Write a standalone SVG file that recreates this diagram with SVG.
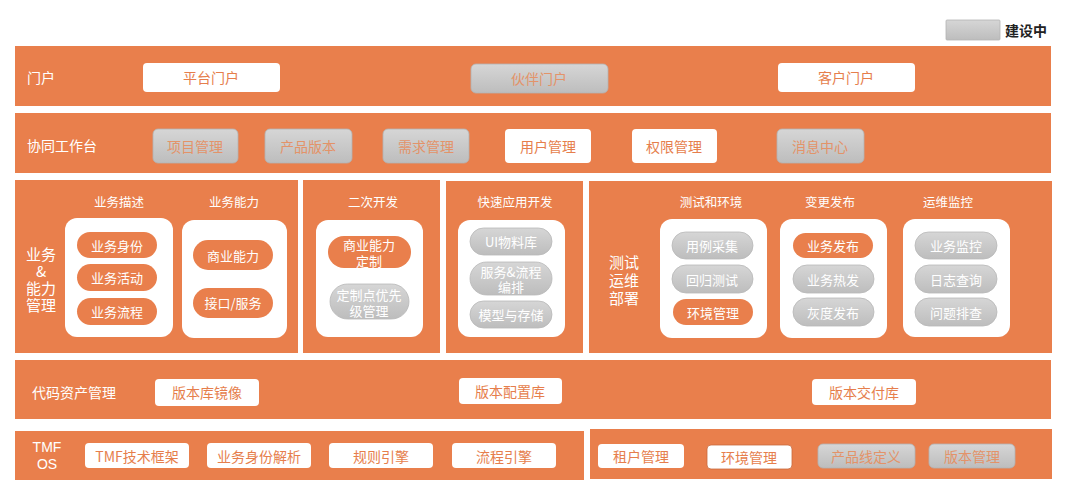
<svg xmlns="http://www.w3.org/2000/svg" width="1080" height="492" viewBox="0 0 1080 492">
<defs>
<linearGradient id="gg" x1="0" y1="0" x2="0" y2="1">
<stop offset="0" stop-color="#d6d6d6"/>
<stop offset="1" stop-color="#bdbdbd"/>
</linearGradient>
<style>
text{font-family:"Noto Sans CJK SC","Noto Sans",sans-serif;text-anchor:middle;dominant-baseline:central}
.band{fill:#e97f4c}
.wb{fill:#ffffff;rx:4px}
.gb{fill:url(#gg);stroke:#b3b3b3;stroke-width:0.8;rx:5px}
.wt{fill:#e67e4c;font-size:14px}
.gt{fill:#e39369;font-size:14px}
.lbl{fill:#ffffff;font-size:14px;text-anchor:start}
.ttl{fill:#ffffff;font-size:12.5px}
.big{fill:#ffffff;font-size:15px}
.cont{fill:#ffffff;rx:12px}
.op{fill:#e97f4c}
.gp{fill:url(#gg);stroke:#b8b8b8;stroke-width:0.8}
.pt{fill:#ffffff;font-size:13px}
</style>
</defs>
<rect width="1080" height="492" fill="#ffffff"/>

<g id="legend">
<rect x="946" y="20" width="54" height="20" class="gb" style="rx:1px"/>
<text x="1026" y="30" style="fill:#222;font-size:14px;font-weight:bold">建设中</text>
</g>

<g id="row-portal">
<rect class="band" x="15" y="46" width="1036" height="60"/>
<text class="lbl" x="27" y="77">门户</text>
</g>
<g id="n-platform-portal"><rect class="wb" x="143" y="63" width="137" height="29"/><text class="wt" x="211" y="77">平台门户</text></g>
<g id="n-partner-portal"><rect class="gb" x="471" y="64" width="137" height="29"/><text class="gt" x="539" y="78">伙伴门户</text></g>
<g id="n-customer-portal"><rect class="wb" x="778" y="63" width="137" height="29"/><text class="wt" x="846" y="77">客户门户</text></g>

<g id="row-workbench">
<rect class="band" x="15" y="113" width="1036" height="60"/>
<text class="lbl" x="27" y="145">协同工作台</text>
</g>
<g id="n-project"><rect class="gb" x="153" y="129" width="85" height="34"/><text class="gt" x="195" y="146">项目管理</text></g>
<g id="n-product-version"><rect class="gb" x="265" y="129" width="87" height="34"/><text class="gt" x="308" y="146">产品版本</text></g>
<g id="n-requirement"><rect class="gb" x="383" y="129" width="86" height="34"/><text class="gt" x="426" y="146">需求管理</text></g>
<g id="n-user"><rect class="wb" x="505" y="129" width="86" height="34"/><text class="wt" x="548" y="146">用户管理</text></g>
<g id="n-permission"><rect class="wb" x="632" y="129" width="85" height="34"/><text class="wt" x="674" y="146">权限管理</text></g>
<g id="n-message"><rect class="gb" x="777" y="129" width="87" height="34"/><text class="gt" x="820" y="146">消息中心</text></g>

<g id="panel-biz">
<rect class="band" x="15" y="180" width="283" height="173"/>
<text class="big" x="41" y="253"><tspan x="41" y="253">业务</tspan><tspan x="41" y="270">&amp;</tspan><tspan x="41" y="287">能力</tspan><tspan x="41" y="304">管理</tspan></text>
<text class="ttl" x="119" y="201">业务描述</text>
<text class="ttl" x="234" y="201">业务能力</text>
<rect class="cont" x="65" y="218" width="108" height="119"/>
<rect class="cont" x="182" y="220" width="105" height="118"/>
</g>
<g id="n-biz-identity"><rect class="op" x="77" y="232" width="80" height="26" rx="13"/><text class="pt" x="117" y="245">业务身份</text></g>
<g id="n-biz-activity"><rect class="op" x="77" y="264" width="80" height="27" rx="13.5"/><text class="pt" x="117" y="277">业务活动</text></g>
<g id="n-biz-process"><rect class="op" x="77" y="298" width="80" height="27" rx="13.5"/><text class="pt" x="117" y="311">业务流程</text></g>
<g id="n-commercial"><rect class="op" x="193" y="240" width="80" height="30" rx="15"/><text class="pt" x="233" y="255">商业能力</text></g>
<g id="n-interface"><rect class="op" x="193" y="288" width="80" height="30" rx="15"/><text class="pt" x="233" y="302">接口/服务</text></g>

<g id="panel-secondary">
<rect class="band" x="303" y="180" width="137" height="173"/>
<text class="ttl" x="373" y="201">二次开发</text>
<rect class="cont" x="316" y="220" width="107" height="117"/>
</g>
<g id="n-custom"><rect class="op" x="328" y="236" width="83" height="32" rx="16"/><text class="pt"><tspan x="369" y="244">商业能力</tspan><tspan x="369" y="260">定制</tspan></text></g>
<g id="n-custom-priority"><rect class="gp" x="330" y="284" width="79" height="35" rx="17.5"/><text class="pt"><tspan x="369" y="294">定制点优先</tspan><tspan x="369" y="310">级管理</tspan></text></g>

<g id="panel-rapid">
<rect class="band" x="446" y="181" width="137" height="172"/>
<text class="ttl" x="515" y="201">快速应用开发</text>
<rect class="cont" x="458" y="220" width="107" height="117"/>
</g>
<g id="n-ui"><rect class="gp" x="470" y="228" width="82" height="27" rx="13.5"/><text class="pt" x="511" y="241">UI物料库</text></g>
<g id="n-orchestration"><rect class="gp" x="470" y="262" width="82" height="33" rx="16.5"/><text class="pt"><tspan x="511" y="271">服务&amp;流程</tspan><tspan x="511" y="286">编排</tspan></text></g>
<g id="n-model"><rect class="gp" x="470" y="301" width="82" height="27" rx="13.5"/><text class="pt" x="511" y="314">模型与存储</text></g>

<g id="panel-ops">
<rect class="band" x="589" y="181" width="463" height="172"/>
<text class="big"><tspan x="624" y="261">测试</tspan><tspan x="624" y="279">运维</tspan><tspan x="624" y="297">部署</tspan></text>
<text class="ttl" x="711" y="201">测试和环境</text>
<text class="ttl" x="830" y="201">变更发布</text>
<text class="ttl" x="948" y="201">运维监控</text>
<rect class="cont" x="660" y="219" width="107" height="119"/>
<rect class="cont" x="780" y="219" width="107" height="119"/>
<rect class="cont" x="903" y="219" width="107" height="118"/>
</g>
<g id="n-case"><rect class="gp" x="672" y="232" width="81" height="27" rx="13.5"/><text class="pt" x="712" y="245">用例采集</text></g>
<g id="n-regression"><rect class="gp" x="672" y="265" width="81" height="28" rx="14"/><text class="pt" x="712" y="279">回归测试</text></g>
<g id="n-env"><rect class="op" x="673" y="299" width="80" height="26" rx="13"/><text class="pt" x="713" y="312">环境管理</text></g>
<g id="n-release"><rect class="op" x="793" y="233" width="80" height="25" rx="12.5"/><text class="pt" x="833" y="245">业务发布</text></g>
<g id="n-hotfix"><rect class="gp" x="793" y="265" width="81" height="28" rx="14"/><text class="pt" x="833" y="279">业务热发</text></g>
<g id="n-gray"><rect class="gp" x="793" y="298" width="81" height="28" rx="14"/><text class="pt" x="833" y="312">灰度发布</text></g>
<g id="n-monitor"><rect class="gp" x="915" y="232" width="82" height="27" rx="13.5"/><text class="pt" x="956" y="245">业务监控</text></g>
<g id="n-log"><rect class="gp" x="915" y="265" width="82" height="28" rx="14"/><text class="pt" x="956" y="279">日志查询</text></g>
<g id="n-issue"><rect class="gp" x="915" y="298" width="82" height="28" rx="14"/><text class="pt" x="956" y="312">问题排查</text></g>

<g id="row-code">
<rect class="band" x="15" y="360" width="1036" height="59"/>
<text class="lbl" x="32" y="392">代码资产管理</text>
</g>
<g id="n-mirror"><rect class="wb" x="155" y="379" width="104" height="27"/><text class="wt" x="207" y="392">版本库镜像</text></g>
<g id="n-config"><rect class="wb" x="459" y="378" width="103" height="26"/><text class="wt" x="510" y="391">版本配置库</text></g>
<g id="n-delivery"><rect class="wb" x="812" y="379" width="104" height="26"/><text class="wt" x="864" y="392">版本交付库</text></g>

<g id="row-tmf">
<rect class="band" x="15" y="431" width="569" height="49"/>
<text style="fill:#fff;font-family:'Liberation Sans',sans-serif;font-size:14px"><tspan x="47" y="447">TMF</tspan><tspan x="47" y="464">OS</tspan></text>
</g>
<g id="n-tmf-framework"><rect class="wb" x="85" y="443" width="104" height="25"/><text class="wt" x="137" y="456">TMF技术框架</text></g>
<g id="n-identity-parse"><rect class="wb" x="207" y="443" width="104" height="25"/><text class="wt" x="259" y="456">业务身份解析</text></g>
<g id="n-rule"><rect class="wb" x="329" y="443" width="104" height="25"/><text class="wt" x="381" y="456">规则引擎</text></g>
<g id="n-flow"><rect class="wb" x="452" y="443" width="104" height="25"/><text class="wt" x="504" y="456">流程引擎</text></g>

<g id="row-tenant">
<rect class="band" x="590" y="429" width="462" height="50"/>
</g>
<g id="n-tenant"><rect class="wb" x="598" y="444" width="86" height="24"/><text class="wt" x="641" y="456">租户管理</text></g>
<g id="n-env2"><rect class="wb" x="707" y="445" width="85" height="24" style="stroke:#c86a3e;stroke-width:0.8"/><text class="wt" x="749" y="457">环境管理</text></g>
<g id="n-product-line"><rect class="gb" x="818" y="444" width="97" height="24"/><text class="gt" x="866" y="456">产品线定义</text></g>
<g id="n-version-mgmt"><rect class="gb" x="929" y="444" width="86" height="24"/><text class="gt" x="972" y="456">版本管理</text></g>

<g id="connectors"></g>
</svg>
